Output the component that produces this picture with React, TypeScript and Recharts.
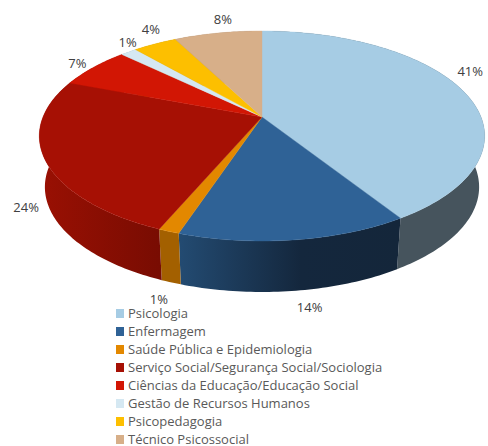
import { Cell, Legend, Pie, PieChart } from 'recharts';

const categories = [
  'Psicologia',
  'Enfermagem',
  'Saúde Pública e Epidemiologia',
  'Serviço Social/Segurança Social/Sociologia',
  'Ciências da Educação/Educação Social',
  'Gestão de Recursos Humanos',
  'Psicopedagogia',
  'Técnico Psicossocial',
];
const values = [41, 14.1, 1.3, 24.4, 6.4, 1.4, 3.8, 7.6];
const percentLabels = ['41%', '14%', '1%', '24%', '7%', '1%', '4%', '8%'];

const topColors = ['#A6CCE4', '#2F6296', '#E38800', '#A61004', '#D21604', '#D5E8F2', '#FDBF00', '#D7AF89'];
const wallColors = ['#46545D', 'url(#wallBlue)', '#A36000', 'url(#wallRed)', '#8E0F03', '#8FA0A8', '#B88A00', '#9A7D62'];
// label position relative to the rim point at the slice's middle angle
const labelNudges = [[8, -19], [15, 67], [-10, 68], [-19, 47], [-16, -4], [-1, -10], [-4, -15], [5, -14]];

const data = categories.map((name, i) => ({ name, value: values[i] }));

const FONT = '"Open Sans", sans-serif';
const TILT = -0.181; // perspective of the disc
const SQUASH = 0.367; // vertical scale of the disc
const DEPTH = 51;
const LOWER_SCALE = 0.975; // lower rim sits further away, so it is a bit narrower

// recharts angle (degrees) -> point on the tilted disc
function project(cx: number, cy: number, r: number, angle: number) {
  const rad = (angle * Math.PI) / 180;
  const u = Math.cos(rad);
  const v = -Math.sin(rad);
  const w = 1 + TILT * v;
  return { x: cx + (r * u) / w, y: (cy + r * SQUASH * v) / w };
}

function arcPoints(cx: number, cy: number, r: number, start: number, end: number) {
  const pts = [];
  const steps = Math.max(2, Math.ceil(Math.abs(end - start)));
  for (let i = 0; i <= steps; i++) {
    pts.push(project(cx, cy, r, start + ((end - start) * i) / steps));
  }
  return pts;
}

const toPath = (pts: { x: number; y: number }[]) =>
  'M' + pts.map((p) => `${p.x.toFixed(2)},${p.y.toFixed(2)}`).join('L') + 'Z';

function TopFace(props: any) {
  const { cx, cy, outerRadius, startAngle, endAngle, fill } = props;
  const pts = [{ x: cx, y: cy }, ...arcPoints(cx, cy, outerRadius, startAngle, endAngle)];
  return <path d={toPath(pts)} fill={fill} stroke={fill} strokeWidth={0.4} />;
}

function WallFace(props: any) {
  const { cx, cy, outerRadius, startAngle, endAngle, fill } = props;
  const rim = arcPoints(cx, cy, outerRadius, startAngle, endAngle);
  const lower = rim.map((p) => ({ x: cx + (p.x - cx) * LOWER_SCALE, y: p.y + DEPTH })).reverse();
  return <path d={toPath([...rim, ...lower])} fill={fill} />;
}

function PercentLabel(props: any) {
  const { cx, cy, outerRadius, midAngle, index } = props;
  const p = project(cx, cy, outerRadius, midAngle);
  const [dx, dy] = labelNudges[index];
  return (
    <text x={p.x + dx} y={p.y + dy} textAnchor="middle" dominantBaseline="central" fontFamily={FONT} fontSize={13} fill="#404040">
      {percentLabels[index]}
    </text>
  );
}

function LegendList({ payload }: any) {
  return (
    <div style={{ fontFamily: FONT, fontSize: 13, color: '#595959' }}>
      {(payload ?? [])
        .filter((item: any) => item.type !== 'none')
        .map((item: any) => (
          <div key={item.value} style={{ height: 18, lineHeight: '18px', display: 'flex', alignItems: 'center', whiteSpace: 'nowrap' }}>
            <span style={{ width: 8, height: 9, background: item.color, marginRight: 4, flex: 'none' }} />
            {item.value}
          </div>
        ))}
    </div>
  );
}

export default function App() {
  return (
    <div style={{ position: 'absolute', left: 0, top: 0, width: 488, height: 446, overflow: 'hidden', background: '#fff' }}>
      <PieChart width={488} height={446} margin={{ top: 0, right: 0, bottom: 0, left: 0 }}>
        <defs>
          <linearGradient id="wallBlue" x1="0" y1="0" x2="1" y2="0">
            <stop offset="0" stopColor="#234B72" />
            <stop offset="0.55" stopColor="#14273D" />
            <stop offset="1" stopColor="#14263A" />
          </linearGradient>
          <linearGradient id="wallRed" x1="0" y1="0" x2="1" y2="0">
            <stop offset="0" stopColor="#9A1003" />
            <stop offset="1" stopColor="#780C02" />
          </linearGradient>
        </defs>
        <Pie
          data={data}
          dataKey="value"
          nameKey="name"
          cx={262}
          cy={117}
          outerRadius={219}
          startAngle={90}
          endAngle={-270}
          stroke="none"
          legendType="none"
          shape={WallFace}
          isAnimationActive={false}
        >
          {wallColors.map((c) => (
            <Cell key={c} fill={c} />
          ))}
        </Pie>
        <Pie
          data={data}
          dataKey="value"
          nameKey="name"
          cx={262}
          cy={117}
          outerRadius={219}
          startAngle={90}
          endAngle={-270}
          stroke="none"
          shape={TopFace}
          label={PercentLabel}
          labelLine={false}
          isAnimationActive={false}
        >
          {topColors.map((c) => (
            <Cell key={c} fill={c} />
          ))}
        </Pie>
        <Legend
          layout="horizontal"
          align="left"
          verticalAlign="bottom"
          itemSorter={null}
          content={LegendList}
          wrapperStyle={{ left: 116, top: 304, bottom: 'auto', width: 330 }}
        />
      </PieChart>
    </div>
  );
}
